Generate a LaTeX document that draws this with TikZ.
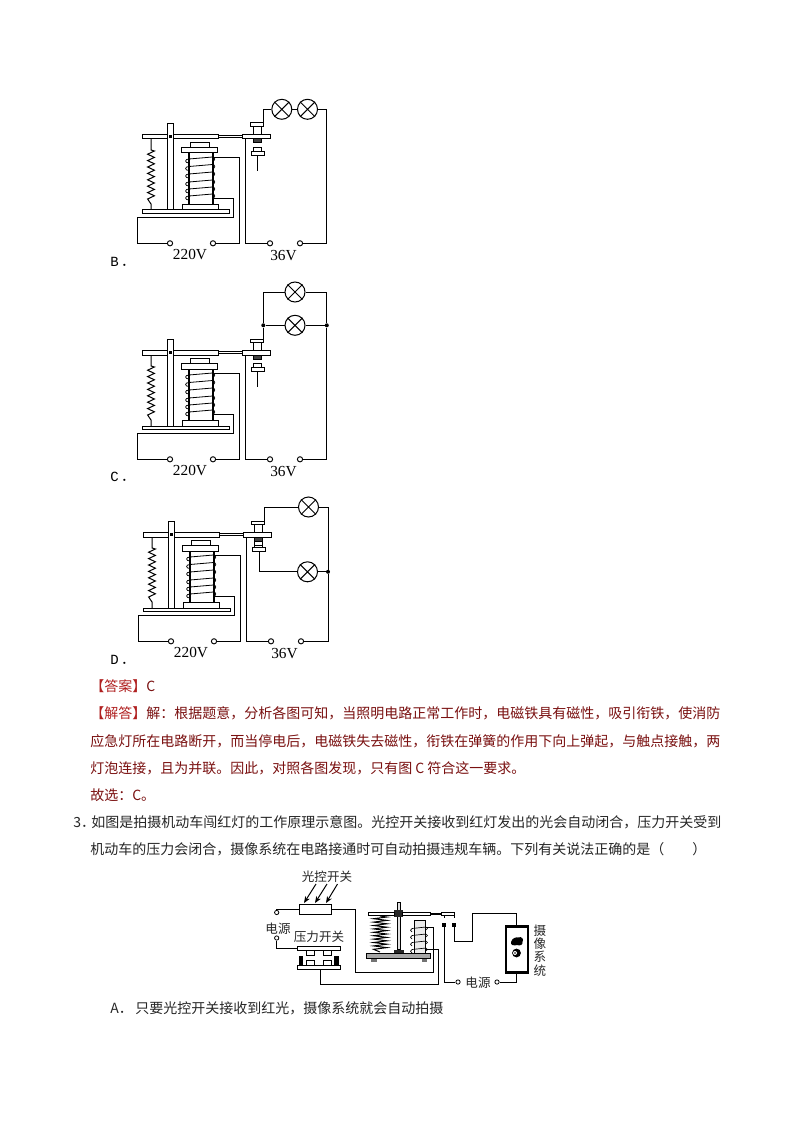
\documentclass[tikz,border=0pt]{standalone}
\usepackage{fontspec}
\setmainfont{Liberation Serif}
\newfontfamily\cjk{Noto Sans CJK SC}
\newfontfamily\mono{Liberation Mono}
\usetikzlibrary{arrows.meta}
\definecolor{ansred}{HTML}{7A1010}
\definecolor{brred}{HTML}{B02020}
\tikzset{
  wire/.style={draw=black,line width=0.75pt},
  part/.style={draw=black,line width=0.75pt,fill=white},
  term/.style={circle,draw=black,line width=0.7pt,fill=white,minimum size=3.9pt,inner sep=0pt},
  thin term/.style={circle,draw=black,line width=0.6pt,fill=white,minimum size=3.2pt,inner sep=0pt},
  lampnode/.style={circle,draw=black,line width=0.75pt,fill=white,minimum size=15pt,inner sep=0pt},
  junction/.style={circle,fill=black,minimum size=3pt,inner sep=0pt},
  volt/.style={inner sep=0pt,font=\fontsize{11.5}{11.5}\selectfont},
  optlabel/.style={inner sep=0pt,anchor=base west,font=\fontsize{10.5}{10.5}\selectfont},
  para/.style={inner sep=0pt,anchor=base west,font=\cjk\fontsize{10.5}{10.5}\selectfont,text=black!85},
  anstext/.style={para,text=ansred},
  small cjk/.style={inner sep=0pt,font=\cjk\fontsize{9.4}{9.4}\selectfont,text=black!85},
  ray/.style={draw=black,line width=0.75pt,-{Stealth[length=5pt,width=4pt]}},
}
\newcommand{\lampcross}[1]{%
  \draw[wire] (#1.45)--(#1.225) (#1.135)--(#1.315);}
% common relay body with its 220 V circuit and the two lower terminals
\newcommand{\relaybody}[1]{%
  % spring
  \draw[wire] (151,139)--(151,150)
    \foreach \k in {0,...,7}{ -- (154.4,{151+\k*6.4}) -- (147.6,{154.2+\k*6.4}) }
    -- (151,204)--(151,210);
  % lever, then the post in front of it
  \draw[part] (142.5,134.5) rectangle (218.5,139);
  \draw[part] (218.5,135.8) rectangle (242,137.8);
  \draw[part] (242,134.5) rectangle (270.5,139);
  \draw[part] (167.5,123.5) rectangle (173,210);
  \fill (169,134.8) rectangle (171.6,137.6);
  % core
  \draw[part] (190,142.5) rectangle (209,147.5);
  \draw[part] (181.5,147.5) rectangle (217.5,153);
  \draw[line width=1.1pt] (189,153)--(189,204) (212.8,153)--(212.8,204);
  \foreach \y in {157,164.5,172,180,187,194}{
    \draw[line width=.6pt] (189,\y+2) -- (212.5,\y);
    \draw[line width=.55pt] (189,\y+2) .. controls (184.5,\y+2) and (184.5,\y+6) .. (189,\y+6);
    \draw[line width=.55pt] (212.5,\y) .. controls (215.5,\y) and (215.5,\y+4) .. (212.5,\y+4);
  }
  \draw[part] (182.5,204.5) rectangle (218.5,210);
  \draw[part] (142.5,210) rectangle (229.5,213.8);
  % terminals and 220 V wiring
  \node[term] (#1-a) at (170,243.3) {};
  \node[term] (#1-b) at (213,243.3) {};
  \coordinate (#1-top) at (213,157.5);
  \coordinate (#1-bot) at (213,198.5);
  \draw[wire] (#1-top) -- (239.2,157.5) -- (239.2,243.3) -- (#1-b);
  \draw[wire] (#1-bot) -- (233.5,198.5) -- (233.5,217.3) -- (137.3,217.3) -- (137.3,243.3) -- (#1-a);
  \node[volt] (#1-v220) at (190,255) {220V};
  \node[volt] (#1-v36) at (283.5,256) {36V};
  % 36 V side
  \node[term] (#1-c) at (270,243.3) {};
  \node[term] (#1-d) at (300,243.3) {};
  \coordinate (#1-arm) at (245.8,139);
  \draw[wire] (#1-arm) -- (245.8,243.3) -- (#1-c);
  % upper contact
  \draw[part] (250.5,123) rectangle (263,126.5);
  \draw[part] (253.5,126.5) rectangle (261.2,134.5);
  \draw[part,fill=black!75] (253.5,139) rectangle (261.2,143);
}
% lower contact with the hanging pin
\newcommand{\lowerpin}{%
  \draw[wire] (257.3,155)--(257.3,171);
  \draw[part] (253.5,147.3) rectangle (261.2,151.3);
  \draw[part] (251.2,151.3) rectangle (264.8,155.6);
}
\begin{document}
\begin{tikzpicture}[x=0.75pt,y=-0.75pt]
\useasboundingbox (0,0) rectangle (794,1123);
\fill[white] (0,0) rectangle (794,1123);

%% figure B
\begin{scope}
  \relaybody{B}
  \lowerpin
  \node[lampnode] (B-l1) at (281.8,109.3) {};
  \node[lampnode] (B-l2) at (307.5,109.3) {};
  \lampcross{B-l1}\lampcross{B-l2}
  \draw[wire] (263.3,123) -- (263.3,109.3) -- (B-l1);
  \draw[wire] (B-l1) -- (B-l2);
  \draw[wire] (B-l2) -- (326.8,109.3) -- (326.8,243.3) -- (B-d);
\end{scope}
\node[optlabel] (B-t) at (110,266.5) {{\mono B}{\cjk\,．}};

%% figure C
\begin{scope}[shift={(0,216)}]
  \relaybody{C}
  \lowerpin
  \node[lampnode] (C-l1) at (295,76) {};
  \node[lampnode] (C-l2) at (295,109.3) {};
  \lampcross{C-l1}\lampcross{C-l2}
  \node[junction] (C-j1) at (263.3,109.3) {};
  \node[junction] (C-j2) at (326.8,109.3) {};
  \draw[wire] (263.3,123) -- (C-j1) -- (263.3,76) -- (C-l1);
  \draw[wire] (C-j1) -- (C-l2) -- (C-j2);
  \draw[wire] (C-l1) -- (326.8,76) -- (C-j2) -- (326.8,243.3) -- (C-d);
\end{scope}
\node[optlabel] (C-t) at (110,481.5) {{\mono C}{\cjk\,．}};

%% figure D
\begin{scope}[shift={(1,398)}]
  \relaybody{D}
  \draw[part] (253.5,143) rectangle (261.2,147);
  \draw[part] (251.2,149) rectangle (264.8,153.3);
  \draw[part] (253.5,147) rectangle (261.2,149);
  \node[lampnode] (D-l1) at (307.5,109) {};
  \node[lampnode] (D-l2) at (306.5,173.8) {};
  \lampcross{D-l1}\lampcross{D-l2}
  \node[junction] (D-j) at (327,173.8) {};
  \draw[wire] (263.5,123) -- (263.5,109) -- (D-l1);
  \draw[wire] (D-l1) -- (327,109) -- (D-j) -- (327,243.3) -- (D-d);
  \draw[wire] (258,153.3) -- (258,173.8) -- (D-l2);
  \draw[wire] (D-l2) -- (D-j);
\end{scope}
\node[optlabel] (D-t) at (110,664) {{\mono D}{\cjk\,．}};

%% text
\node[anstext] (p1) at (90,691) {{\color{brred}【答案】}C};
\node[anstext] (p2) at (90,718) {{\color{brred}【解答】}解：根据题意，分析各图可知，当照明电路正常工作时，电磁铁具有磁性，吸引衔铁，使消防};
\node[anstext] (p3) at (90,746) {应急灯所在电路断开，而当停电后，电磁铁失去磁性，衔铁在弹簧的作用下向上弹起，与触点接触，两};
\node[anstext] (p4) at (90,773) {灯泡连接，且为并联。因此，对照各图发现，只有图 C 符合这一要求。};
\node[anstext] (p5) at (90,800) {故选：C。};
\node[para] (q0) at (73,827) {3．};
\node[para] (q1) at (91,827) {如图是拍摄机动车闯红灯的工作原理示意图。光控开关接收到红灯发出的光会自动闭合，压力开关受到};
\node[para] (q2) at (90,854) {机动车的压力会闭合，摄像系统在电路接通时可自动拍摄违规车辆。下列有关说法正确的是（　　）};
\node[para] (qa) at (110,1013) {A．};
\node[para] (qb) at (135,1013) {只要光控开关接收到红光，摄像系统就会自动拍摄};

%% traffic-light camera circuit
\node[small cjk] (lab1) at (327,877) {光控开关};
\node[small cjk] (lab2) at (278,929) {电源};
\node[small cjk] (lab3) at (319,937) {压力开关};
\node[small cjk] (lab4) at (478,983) {电源};
\node[small cjk,align=center,font=\cjk\fontsize{9.4}{10}\selectfont] (lab5) at (540,950.5) {摄\\像\\系\\统};

\node[part,minimum width=24.5pt,minimum height=8.2pt,inner sep=0pt] (res) at (315.5,909.5) {};
\foreach \i/\sx/\tx in {1/316/304,2/327/315,3/337.5/326}{
  \coordinate (rs\i) at (\sx,884);
  \coordinate (rt\i) at (\tx,903);
  \draw[ray] (rs\i) -- (rt\i);
}
\node[thin term] (s1) at (276.7,912.5) {};
\node[thin term] (s2) at (276.7,938) {};
\node[thin term] (s3) at (458,982) {};
\node[thin term] (s4) at (497,982) {};

% pressure switch
\draw[part] (297,946) rectangle (340.5,950.7);
\draw[part] (306,950.7) rectangle (314,955.5);
\draw[part] (323,950.7) rectangle (331,955.5);
\draw[part] (306,960) rectangle (314,965.3);
\draw[part] (323,960) rectangle (331,965.3);
\fill[black] (298.5,955.5) rectangle (303,965.3);
\fill[black] (334,955.5) rectangle (338.7,965.3);
\draw[part] (297,965.3) rectangle (340.5,969.7);
\coordinate (ps-top) at (297,949);
\coordinate (ps-bot) at (320.7,969.7);

% relay
\draw[wire] (380,916)
  \foreach \k in {0,...,9}{ -- (387,{917+\k*3.4}) -- (373.5,{918.7+\k*3.4}) } -- (380,952);
\draw[line width=.9pt,fill=black!12] (397.3,902.5) rectangle (400.7,950);
\fill[black!85] (394.2,910) rectangle (402.8,917.3);
\draw[part] (368.5,912.3) rectangle (394.2,915.2);
\draw[part] (402.8,912.3) rectangle (430.5,915.2);
\draw[part] (430.5,913) rectangle (441,914.6);
\draw[part] (441,912.3) rectangle (454.3,915.2);
\fill[black!85] (394.2,950) rectangle (404,953.3);
\draw[line width=.75pt,fill=black!8] (414,920.5) rectangle (425.3,953);
\foreach \y in {927,934,941,948}{
  \draw[line width=.5pt] (412,\y+1.5) -- (426,\y);
  \draw[line width=.5pt] (412,\y+1.5) .. controls (410,\y+1.5) and (410,\y+5) .. (412,\y+5);
  \draw[line width=.5pt] (426,\y) .. controls (428,\y) and (428,\y+3) .. (426,\y+3);
}
\draw[line width=.75pt,fill=black!35] (366.3,953.3) rectangle (430.7,958.7);
\fill[black!55] (370.5,958.7) rectangle (376.5,961.5);
\fill[black!55] (421.5,958.7) rectangle (427,961.5);
\fill[black] (442.3,923) rectangle (446,927.3);
\fill[black] (452,923) rectangle (456,927.3);
\coordinate (c-left) at (444,927.3);
\coordinate (c-right) at (454,927.3);
\draw[wire] (444,915.2)--(444,918) (454,915.2)--(454,918);

% camera
\node[draw=black,line width=1.6pt,fill=white,minimum width=16.5pt,minimum height=34.5pt,inner sep=0pt] (cam) at (516.7,949.5) {};
\fill[black] (511,942) .. controls (512,938) and (516,937) .. (518,937.5)
  .. controls (522,936) and (524,939) .. (522.5,942)
  .. controls (523,945) and (520,946) .. (517,945)
  .. controls (514,946) and (510,945) .. (511,942) -- cycle;
\fill[black] (516.5,953) circle (4.4);
\fill[white] (515,953) circle (2);
\fill[black] (515,953) circle (.9);

% wiring
\draw[wire] (res.west) -- (276.7,909.5) -- (s1);
\draw[wire] (s2) -- (276.7,948.7) -- (297,948.7);
\draw[wire] (res.east) -- (355.3,909.5) -- (355.3,972.7) -- (433.3,972.7) -- (433.3,927) -- (425.3,927);
\draw[wire] (ps-bot) -- (320.7,984) -- (438.7,984) -- (438.7,949) -- (425.3,949);
\draw[wire] (c-left) -- (444,982) -- (s3);
\draw[wire] (s4) -- (516.7,982) -- (cam.south);
\draw[wire] (c-right) -- (454,941) -- (472.3,941) -- (472.3,913) -- (516.7,913) -- (cam.north);
\end{tikzpicture}
\end{document}
